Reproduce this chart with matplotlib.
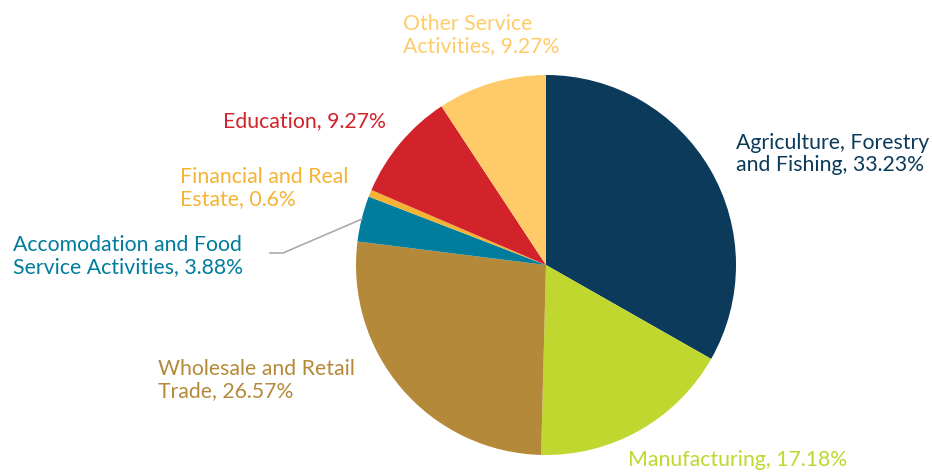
import matplotlib
matplotlib.use('Agg')
import matplotlib.pyplot as plt

# Sector shares (percent), clockwise from 12 o'clock
sectors = ['Agriculture, Forestry and Fishing', 'Manufacturing', 'Wholesale and Retail Trade',
           'Accomodation and Food Service Activities', 'Financial and Real Estate',
           'Education', 'Other Service Activities']
shares = [33.23, 17.18, 26.57, 3.88, 0.6, 9.27, 9.27]
colors = ['#0B3A5A', '#C0D72F', '#B5893A', '#007C9C', '#F5B335', '#D2232A', '#FFCB69']

# label text as shown on the chart
label_text = ['Agriculture, Forestry\nand Fishing, 33.23%',
              'Manufacturing, 17.18%',
              'Wholesale and Retail\nTrade, 26.57%',
              'Accomodation and Food\nService Activities, 3.88%',
              'Financial and Real\nEstate, 0.6%',
              'Education, 9.27%',
              'Other Service\nActivities, 9.27%']
label_pos = [(736, 154), (628, 460), (158, 380), (13, 256), (180, 188), (223, 121), (403, 35)]

W, H = 932, 473
fig = plt.figure(figsize=(W / 100, H / 100), dpi=100)
ax = fig.add_axes([0, 0, 1, 1])

ax.pie(shares, colors=colors, startangle=90, counterclock=False,
       center=(546, H - 265), radius=190, frame=True,
       wedgeprops=dict(linewidth=0))
ax.set_xlim(0, W)
ax.set_ylim(0, H)
ax.set_aspect('equal')
ax.axis('off')

for txt, (x, y), c in zip(label_text, label_pos, colors):
    ax.text(x, H - y, txt, color=c, fontsize=15.3, family='Lato',
            ha='left', va='center', linespacing=1.15)

# leader line for the small teal slice
ax.plot([270, 283, 362], [H - 253, H - 253, H - 219], color='#AAAAAA', lw=1.2)

fig.savefig('out.png', dpi=100)
